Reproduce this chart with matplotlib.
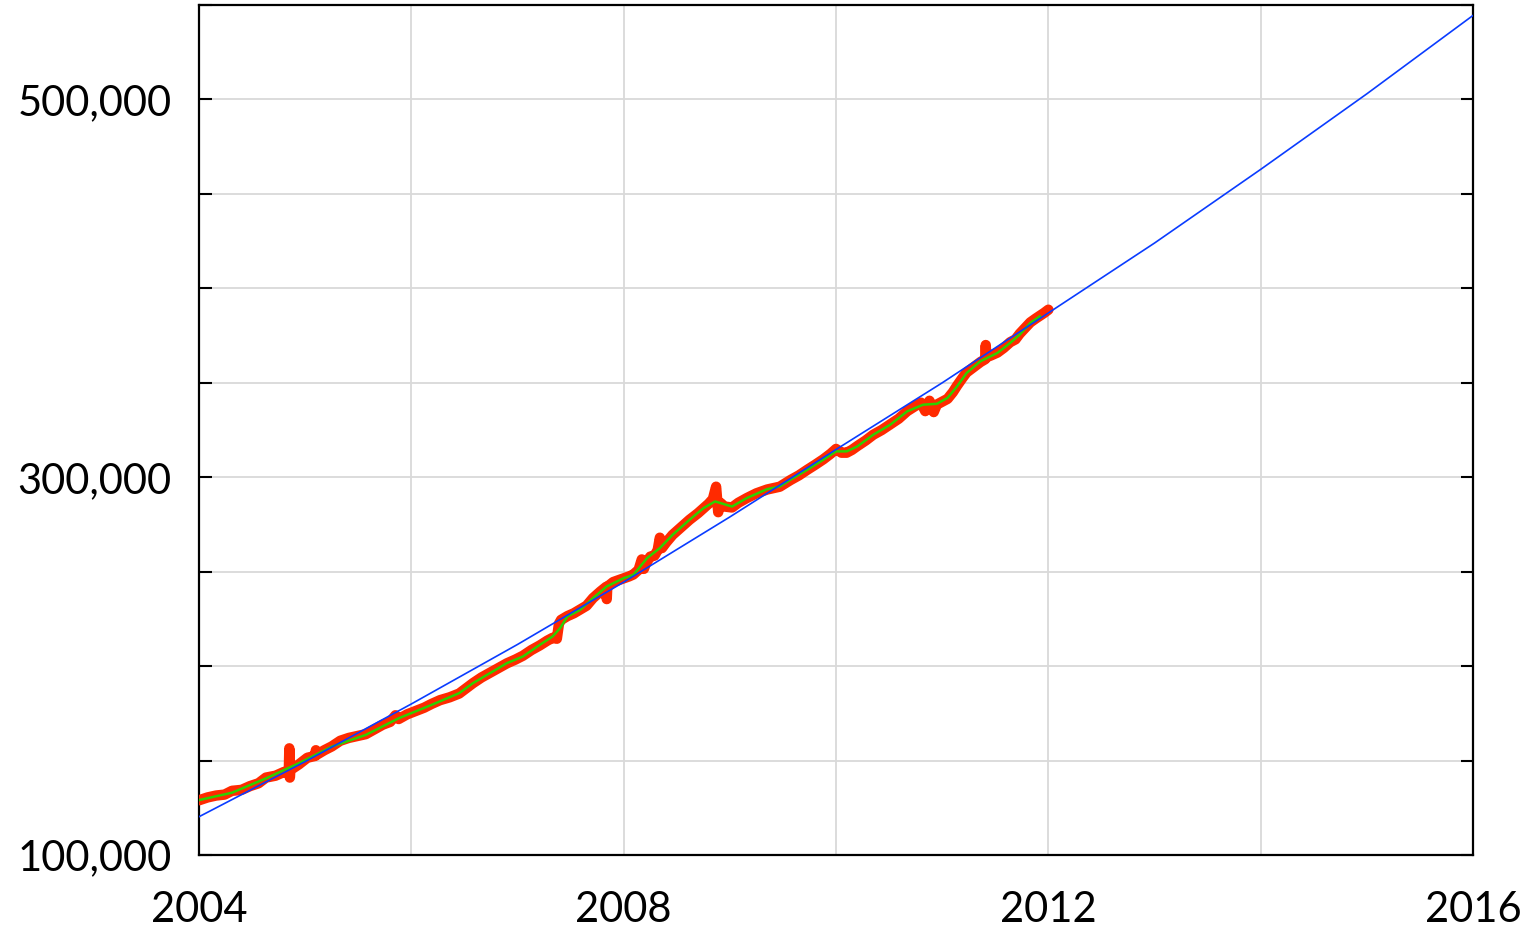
import matplotlib
matplotlib.use("Agg")
import matplotlib.pyplot as plt
from matplotlib.ticker import FuncFormatter, MultipleLocator, FixedLocator

plt.rcParams['font.family'] = ['Lato', 'DejaVu Sans']

# trend curve, one point per year
trend_years = [2004, 2005, 2006, 2007, 2008, 2009, 2010, 2011, 2012, 2013, 2014, 2015, 2016]
trend_vals = [120300, 149500, 180000, 211500, 244500, 279000, 314700, 350000,
              387000, 424000, 463000, 503000, 544500]

# smoothed series
smooth_years = [2004.00, 2004.31, 2004.63, 2004.94, 2005.25, 2005.57, 2005.88, 2006.19,
                2006.45, 2006.58, 2006.90, 2007.05, 2007.21, 2007.33, 2007.40, 2007.47,
                2007.59, 2007.71, 2007.84, 2008.00, 2008.09, 2008.22, 2008.34, 2008.46,
                2008.62, 2008.75, 2008.86, 2009.02, 2009.16, 2009.35, 2009.47, 2009.57,
                2009.73, 2009.88, 2010.00, 2010.10, 2010.20, 2010.35, 2010.51, 2010.67,
                2010.82, 2010.95, 2011.05, 2011.14, 2011.23, 2011.36, 2011.52, 2011.64,
                2011.73, 2011.83, 2011.92]
smooth_vals = [129100, 133000, 140600, 148600, 157400, 163600, 172400, 179500,
               185700, 191000, 201600, 205100, 211300, 215700, 220100, 226300,
               229800, 236000, 242200, 246600, 248300, 257200, 262500, 269500,
               277500, 283600, 287200, 284500, 289000, 293700, 295100, 298700,
               304000, 309300, 313700, 313700, 316300, 322500, 327800, 334900,
               338400, 338900, 342000, 348100, 355200, 361400, 365800, 371100,
               375500, 381700, 385200]

# daily series (thick, noisy)
raw_years = [2004.00, 2004.08, 2004.16, 2004.24, 2004.31, 2004.40, 2004.48, 2004.56,
             2004.63, 2004.72, 2004.80, 2004.845, 2004.85, 2004.855, 2004.86, 2004.94,
             2005.02, 2005.095, 2005.10, 2005.105, 2005.18, 2005.25, 2005.33, 2005.41,
             2005.49, 2005.57, 2005.65, 2005.73, 2005.80, 2005.85, 2005.88, 2005.96,
             2006.05, 2006.12, 2006.19, 2006.27, 2006.36, 2006.45, 2006.52, 2006.58,
             2006.66, 2006.74, 2006.82, 2006.90, 2006.98, 2007.05, 2007.13, 2007.21,
             2007.28, 2007.33, 2007.37, 2007.39, 2007.41, 2007.47, 2007.53, 2007.59,
             2007.65, 2007.71, 2007.78, 2007.835, 2007.84, 2007.845, 2007.90, 2007.95,
             2008.00, 2008.05, 2008.09, 2008.14, 2008.17, 2008.19, 2008.21, 2008.25,
             2008.29, 2008.32, 2008.34, 2008.36, 2008.40, 2008.46, 2008.54, 2008.62,
             2008.70, 2008.75, 2008.80, 2008.84, 2008.87, 2008.89, 2008.91, 2008.95,
             2009.02, 2009.08, 2009.16, 2009.25, 2009.35, 2009.47, 2009.57, 2009.65,
             2009.73, 2009.80, 2009.88, 2009.95, 2010.00, 2010.05, 2010.10, 2010.15,
             2010.20, 2010.28, 2010.35, 2010.43, 2010.51, 2010.59, 2010.67, 2010.74,
             2010.80, 2010.84, 2010.88, 2010.92, 2010.95, 2011.00, 2011.05, 2011.10,
             2011.14, 2011.19, 2011.23, 2011.30, 2011.36, 2011.405, 2011.41, 2011.415,
             2011.46, 2011.52, 2011.58, 2011.64, 2011.69, 2011.73, 2011.78, 2011.83,
             2011.88, 2011.92, 2011.96, 2012.00]
raw_vals = [129000, 130500, 131500, 132000, 134000, 134500, 136500, 138000,
            141000, 142000, 144000, 143500, 156500, 141000, 145000, 148000,
            151500, 152500, 155500, 153000, 155500, 157500, 160500, 162000,
            163000, 164000, 166500, 169000, 170500, 174000, 172000, 174500,
            176500, 178000, 180000, 182000, 183500, 185500, 188500, 191000,
            194000, 196500, 199000, 201500, 203500, 205500, 208500, 211000,
            213500, 215000, 214500, 222500, 224500, 226500, 228000, 230000,
            232000, 236000, 239500, 242000, 235500, 242000, 244500, 245500,
            246500, 247500, 248500, 251000, 256500, 251500, 254500, 258000,
            258500, 261500, 268000, 262500, 265500, 269500, 273500, 277500,
            281000, 283500, 286000, 288500, 295000, 281500, 286500, 284500,
            284000, 286500, 289000, 291500, 293500, 295000, 298500, 301000,
            304000, 306500, 309500, 312500, 315000, 313000, 313000, 314500,
            316500, 319500, 322500, 325000, 328000, 331000, 335000, 337500,
            339500, 335000, 340500, 334500, 338500, 340000, 341500, 345000,
            348500, 352500, 355500, 358500, 361000, 362500, 370000, 363500,
            364500, 366000, 368500, 371500, 373000, 376000, 379000, 382000,
            384000, 385500, 387000, 388700]

y_labels = [100000, 300000, 500000]

fig = plt.figure(figsize=(15.29, 9.30), dpi=100)
ax = fig.add_axes([0.1302, 0.0806, 0.8332, 0.914])

ax.plot(raw_years, raw_vals, color='#ff2a00', lw=7.5, solid_capstyle='round',
        solid_joinstyle='round', zorder=3)
ax.plot(smooth_years, smooth_vals, color='#2ed000', lw=1.8, zorder=4)
ax.plot(trend_years, trend_vals, color='#0a3cff', lw=1.2, zorder=5)

ax.set_xlim(2004, 2016)
ax.set_ylim(100000, 550000)

ax.xaxis.set_major_locator(MultipleLocator(4))
ax.xaxis.set_minor_locator(MultipleLocator(2))
ax.yaxis.set_major_locator(FixedLocator(y_labels))
ax.yaxis.set_minor_locator(MultipleLocator(50000))
ax.yaxis.set_major_formatter(FuncFormatter(lambda v, p: f"{int(v):,}"))
ax.xaxis.set_major_formatter(FuncFormatter(lambda v, p: f"{int(v)}"))

ax.grid(True, which='both', color='#d9d9d9', lw=1.3, zorder=0)
ax.set_axisbelow(True)

ax.tick_params(axis='y', which='both', direction='in', length=9, width=1.5,
               left=True, right=True, labelsize=30, pad=20)
ax.tick_params(axis='x', which='both', length=0, labelsize=30, pad=26)

for s in ax.spines.values():
    s.set_linewidth(1.6)
    s.set_color('black')

fig.savefig('out.png', dpi=100)
